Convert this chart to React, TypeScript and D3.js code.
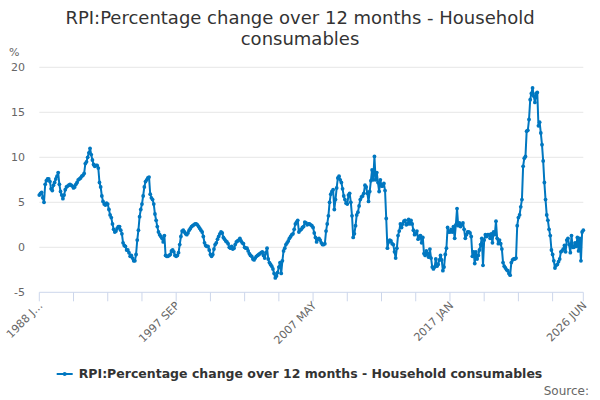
import React, { useEffect, useRef } from 'react';
import * as d3 from 'd3';

// RPI household consumables, % change over 12 months, monthly from 1988 JAN
const startYear = 1988;
const values: number[] = [
  5.8, 6.0, 6.1, 5.5, 5.0, 7.0, 7.4, 7.6, 7.6, 7.3, 6.5, 6.3, // 1988
  6.9, 7.2, 7.6, 7.9, 8.3, 7.0, 6.2, 5.8, 5.4, 5.8, 6.4, 6.7, // 1989
  6.8, 6.9, 7.0, 6.9, 6.8, 6.6, 6.7, 7.0, 7.2, 7.5, 7.6, 7.7, // 1990
  7.9, 8.0, 8.2, 9.3, 9.5, 10.0, 10.5, 11.0, 10.3, 9.7, 9.2, 9.0, // 1991
  9.1, 9.1, 8.8, 7.2, 6.7, 5.7, 5.1, 4.8, 4.7, 4.9, 4.8, 4.2, // 1992
  3.6, 3.3, 2.6, 2.0, 1.7, 1.8, 2.1, 2.3, 2.3, 1.9, 1.5, 0.5, // 1993
  0.2, 0.1, -0.3, -0.3, -0.6, -1.0, -0.9, -1.2, -1.5, -1.5, -0.8, 0.8, // 1994
  1.9, 3.4, 4.2, 4.8, 5.7, 6.7, 7.3, 7.5, 7.7, 7.8, 5.9, 5.5, // 1995
  5.3, 4.8, 3.7, 3.0, 2.3, 1.7, 1.4, 1.2, 1.0, 0.6, 1.3, -0.9, // 1996
  -1.0, -1.0, -0.9, -0.8, -0.4, -0.3, -0.5, -0.9, -1.0, -0.9, -0.6, 0.3, // 1997
  1.2, 1.8, 1.9, 1.7, 1.5, 1.4, 1.6, 1.9, 2.1, 2.3, 2.4, 2.5, // 1998
  2.6, 2.6, 2.5, 2.3, 2.1, 1.9, 1.7, 1.2, 0.5, 0.2, 0.1, 0.1, // 1999
  -0.3, -0.8, -1.0, -0.8, -0.2, 0.3, 0.5, 0.9, 1.2, 1.5, 1.7, 1.6, // 2000
  1.1, 0.9, 0.7, 0.6, 0.4, 0.0, -0.1, 0.1, -0.2, -0.1, 0.3, 0.6, // 2001
  0.7, 0.8, 1.0, 0.7, 0.5, 0.4, 0.0, -0.1, -0.1, -0.4, -0.7, -0.9, // 2002
  -1.0, -1.3, -1.4, -1.2, -1.0, -0.9, -0.8, -0.7, -0.6, -0.5, -0.9, -1.2, // 2003
  -0.6, -0.1, -1.3, -1.7, -1.9, -2.1, -2.4, -2.9, -3.4, -3.2, -2.8, -2.2, // 2004
  -1.7, -2.9, -1.5, -0.4, -0.1, 0.3, 0.5, 0.7, 1.0, 1.2, 1.4, 1.5, // 2005
  2.0, 2.6, 2.8, 3.0, 1.7, 1.9, 2.0, 2.2, 2.3, 2.8, 2.7, 2.5, // 2006
  2.6, 2.6, 2.5, 2.4, 2.2, 1.6, 1.1, 0.6, 0.9, 1.0, 0.8, 0.5, // 2007
  0.3, 0.3, 0.4, 1.8, 2.6, 3.5, 5.0, 5.9, 6.2, 6.4, 4.2, 5.3, // 2008
  6.6, 7.7, 7.9, 7.5, 7.2, 6.5, 5.7, 5.3, 4.9, 4.8, 5.8, 6.0, // 2009
  5.0, 3.5, 1.1, 1.5, 2.4, 3.6, 3.9, 4.6, 5.3, 5.6, 5.7, 6.0, // 2010
  6.9, 6.7, 6.0, 5.1, 6.2, 7.4, 8.6, 7.5, 10.1, 7.5, 8.3, 7.2, // 2011
  6.2, 7.5, 6.8, 6.8, 7.1, 6.3, 3.2, -0.1, 0.6, 0.8, 0.7, 0.4, // 2012
  0.3, -0.5, -1.2, -0.1, 1.3, 1.8, 2.6, 2.2, 2.6, 2.9, 3.0, 2.5, // 2013
  2.6, 3.1, 2.6, 3.0, 2.6, 1.9, 1.4, 1.5, 1.8, 0.9, 1.2, 1.3, // 2014
  0.5, 1.1, -0.7, -0.9, -0.4, -0.7, -1.1, -0.2, -1.2, -2.2, -2.4, -2.2, // 2015
  -1.3, -2.1, -1.9, -1.4, -0.9, -1.4, -2.6, -2.2, -0.8, -0.1, 2.2, 1.7, // 2016
  1.7, 2.0, 1.7, 2.3, 1.0, 2.5, 4.3, 2.4, 2.7, 2.3, 2.5, 2.7, // 2017
  2.0, 1.0, 1.4, 1.7, 1.7, 1.6, 1.2, -1.0, -0.5, -1.8, -0.5, -1.3, // 2018
  -0.9, -0.3, 0.3, 1.0, -2.0, 0.8, 1.4, 1.2, 1.4, 1.4, 1.0, 1.5, // 2019
  0.5, 1.7, 1.4, 2.9, 1.0, 0.4, 0.8, 0.4, -0.2, -1.7, -2.1, -2.3, // 2020
  -2.5, -2.6, -2.9, -3.1, -1.7, -1.4, -1.3, -1.3, -1.2, 2.4, 3.3, 3.6, // 2021
  4.5, 5.3, 9.0, 9.9, 10.1, 12.9, 13.0, 14.2, 16.4, 17.1, 17.7, 16.8, // 2022
  16.1, 17.1, 17.2, 13.5, 13.9, 12.7, 11.4, 9.6, 7.2, 5.3, 3.6, 3.0, // 2023
  2.0, 1.3, -0.3, -0.8, -1.5, -2.3, -2.0, -1.9, -1.6, -1.3, -0.5, -0.4, // 2024
  -0.2, 0.2, -0.5, 0.8, 1.0, 0.3, -0.6, 1.3, 0.0, 0.0, 0.5, 0.1, // 2025
  1.1, -0.4, 1.0, -1.5, 1.7, 1.9, // 2026
];

const monthNames = ['JAN', 'FEB', 'MAR', 'APR', 'MAY', 'JUN', 'JUL', 'AUG', 'SEP', 'OCT', 'NOV', 'DEC'];
const categories = values.map((_, i) => `${startYear + Math.floor(i / 12)} ${monthNames[i % 12]}`);

const yTicks = [-5, 0, 5, 10, 15, 20];
const tickEvery = 29;
const labelEvery = 116;
const firstLabelShown = '1988 J…';

const title = ['RPI:Percentage change over 12 months - Household', 'consumables'];
const seriesName = 'RPI:Percentage change over 12 months - Household consumables';

export default function App() {
  const svgRef = useRef<SVGSVGElement>(null);

  useEffect(() => {
    document.body.style.margin = '0';
    if (!svgRef.current) return;
    const svg = d3.select(svgRef.current);
    svg.selectAll('*').remove();

    const font = '"DejaVu Sans", sans-serif';
    const color = '#0077c0';
    const n = values.length;

    const x = d3.scaleLinear().domain([0, n - 1]).range([39.3, 583.3]);
    const y = d3.scaleLinear().domain([-5, 20]).range([292.3, 67.3]);

    svg.append('rect').attr('width', 600).attr('height', 400).attr('fill', '#fff');

    // title
    const t = svg.append('text').attr('text-anchor', 'middle').attr('font-family', font)
      .attr('font-size', 18).attr('fill', '#333');
    title.forEach((line, k) => {
      t.append('tspan').attr('x', 300).attr('y', 24 + k * 21).text(line);
    });

    // y grid + labels
    yTicks.forEach(v => {
      if (v !== -5) {
        svg.append('line').attr('x1', x(0)).attr('x2', x(n - 1)).attr('y1', y(v)).attr('y2', y(v))
          .attr('stroke', '#e6e6e6').attr('stroke-width', 1);
      }
      svg.append('text').attr('x', 25).attr('y', y(v) + 4).attr('text-anchor', 'end')
        .attr('font-family', font).attr('font-size', 11).attr('fill', '#666').text(v);
    });
    svg.append('text').attr('x', 9).attr('y', 56).attr('font-family', font)
      .attr('font-size', 11).attr('fill', '#666').text('%');

    // x axis
    svg.append('line').attr('x1', x(0)).attr('x2', x(n - 1)).attr('y1', y(-5)).attr('y2', y(-5))
      .attr('stroke', '#ccd6eb').attr('stroke-width', 1);
    const tickIdx = d3.range(0, n, tickEvery).concat([n - 1]);
    tickIdx.forEach(i => {
      svg.append('line').attr('x1', x(i)).attr('x2', x(i)).attr('y1', y(-5)).attr('y2', y(-5) + 9)
        .attr('stroke', '#ccd6eb').attr('stroke-width', 1);
    });
    const labelIdx = d3.range(0, n - labelEvery / 2, labelEvery).concat([n - 1]);
    labelIdx.forEach(i => {
      const lx = x(i) + 4;
      const ly = y(-5) + 14;
      svg.append('text').attr('x', lx).attr('y', ly).attr('text-anchor', 'end')
        .attr('transform', `rotate(-45 ${lx} ${ly})`)
        .attr('font-family', font).attr('font-size', 11).attr('fill', '#666')
        .text(i === 0 ? firstLabelShown : categories[i]);
    });

    // series
    const line = d3.line<number>().x((_, i) => x(i)).y(d => y(d));
    svg.append('path').datum(values).attr('d', line).attr('fill', 'none')
      .attr('stroke', color).attr('stroke-width', 2).attr('stroke-linejoin', 'round');
    svg.append('g').selectAll('circle').data(values).enter().append('circle')
      .attr('cx', (_, i) => x(i)).attr('cy', d => y(d)).attr('r', 1.9).attr('fill', color);

    // legend
    const lg = svg.append('g');
    const lt = lg.append('text').attr('y', 378.3).attr('font-family', font).attr('font-size', 12.5)
      .attr('font-weight', 'bold').attr('fill', '#333').text(seriesName);
    const tw = (lt.node() as SVGTextElement).getComputedTextLength();
    const total = 16 + 6 + tw;
    const sx = 299.5 - total / 2;
    lt.attr('x', sx + 22);
    lg.append('line').attr('x1', sx).attr('x2', sx + 16).attr('y1', 374).attr('y2', 374)
      .attr('stroke', color).attr('stroke-width', 2);
    lg.append('circle').attr('cx', sx + 8).attr('cy', 374).attr('r', 2).attr('fill', color);

    svg.append('text').attr('x', 589).attr('y', 395).attr('text-anchor', 'end')
      .attr('font-family', font).attr('font-size', 12).attr('fill', '#666').text('Source:');
  }, []);

  return (
    <svg ref={svgRef} width={600} height={400} viewBox="0 0 600 400" style={{ display: 'block' }}></svg>
  );
}
